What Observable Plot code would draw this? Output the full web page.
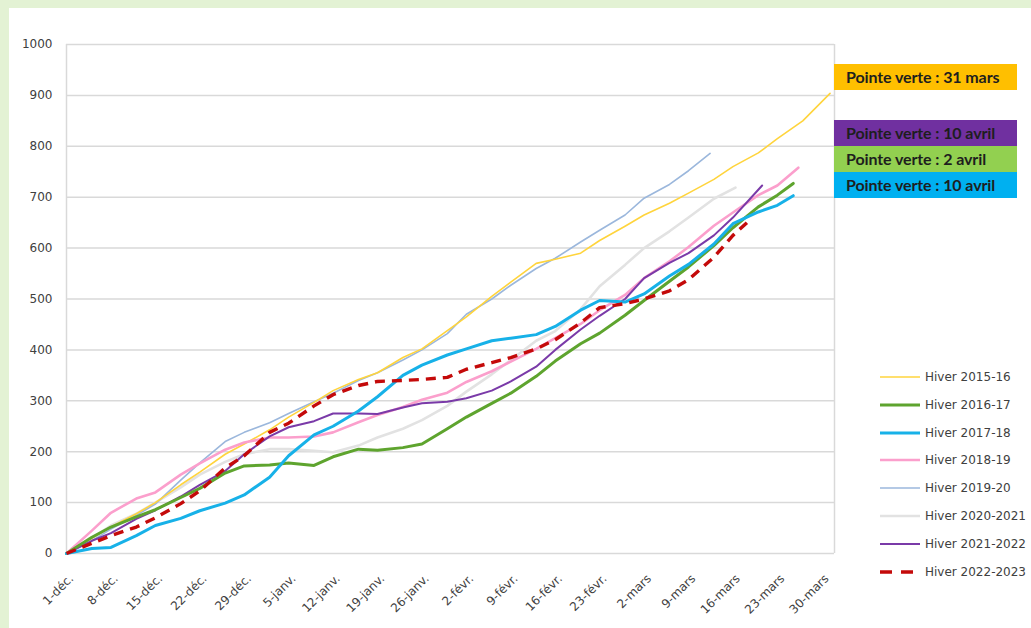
<!DOCTYPE html>
<html>
<head>
<meta charset="utf-8">
<script src="https://cdn.jsdelivr.net/npm/d3@7"></script>
<script src="https://cdn.jsdelivr.net/npm/@observablehq/plot@0.6"></script>
<style>
  html, body { margin: 0; padding: 0; }
  body { width: 1031px; height: 628px; background: #e3f2d4; position: relative; overflow: hidden; font-family: "DejaVu Sans", sans-serif; }
  #panel { position: absolute; left: 9px; top: 8px; width: 1022px; height: 620px; background: #ffffff; }
  #chart { position: absolute; left: 0; top: 0; }
  .box { position: absolute; left: 834px; width: 183px; height: 26px; line-height: 26px; box-sizing: border-box; padding-left: 12px;
         font-family: Lato, "Liberation Sans", sans-serif; font-weight: bold; font-size: 16px; color: #1e1e1e; white-space: nowrap; letter-spacing: -0.1px; }
  .leg { position: absolute; left: 878px; height: 20px; display: flex; align-items: center; font-size: 12px; color: #404040; white-space: nowrap; }
  .leg svg { margin-right: 5px; }
</style>
</head>
<body>
<div id="panel"></div>
<div id="chart"></div>
<div id="boxes"></div>
<div id="legend"></div>
<script>
// Day index from 1 December
const days = [0,4,7,11,14,18,21,25,28,32,35,39,42,46,49,53,56,60,63,67,70,74,77,81,84,88,91,95,98,102,105,109,112,116];
const tickDays = [0,7,14,21,28,35,42,49,56,63,70,77,84,91,98,105,112,119];
const tickLabels = ["1-déc.","8-déc.","15-déc.","22-déc.","29-déc.","5-janv.","12-janv.","19-janv.","26-janv.","2-févr.","9-févr.","16-févr.","23-févr.","2-mars","9-mars","16-mars","23-mars","30-mars"];
const yTicks = [0,100,200,300,400,500,600,700,800,900,1000];

// Each series: values on the days grid; the last value sits at the series end day
const hiver2015 = [0,30,52,78,100,135,160,195,215,243,268,297,320,342,355,385,402,438,465,505,533,570,578,590,615,643,665,688,708,735,760,787,815,850,904];
const hiver2016 = [0,32,52,72,86,110,128,158,172,174,178,173,190,205,203,208,215,245,268,295,315,348,378,412,433,468,497,535,563,605,640,681,704,727];
const hiver2017 = [0,10,12,35,55,69,84,99,115,150,192,233,250,280,308,350,370,390,402,418,423,430,446,478,497,494,510,545,568,608,648,671,684,703];
const hiver2018 = [0,45,80,108,120,155,177,204,218,228,228,230,238,258,272,288,302,316,337,358,377,402,423,451,478,508,541,574,602,644,670,704,723,758];
const hiver2019 = [0,25,48,75,97,144,178,220,238,257,275,298,315,340,355,380,400,432,470,500,527,560,580,612,635,665,698,725,752,786];
const hiver2020 = [0,30,55,78,100,130,155,180,195,205,205,202,199,212,228,245,262,290,318,352,380,418,437,480,525,567,600,633,660,697,719];
const hiver2021 = [0,25,40,68,85,112,135,162,195,230,248,260,275,275,274,287,295,298,305,320,338,367,400,440,467,500,541,571,590,625,660,723];
const hiver2022 = [0,20,35,52,70,98,123,168,192,238,256,290,312,330,338,340,342,346,362,375,385,402,420,453,483,491,500,516,538,582,625,650];

const seriesNames = ["Hiver 2015-16","Hiver 2016-17","Hiver 2017-18","Hiver 2018-19","Hiver 2019-20","Hiver 2020-2021","Hiver 2021-2022","Hiver 2022-2023"];
const seriesValues = [hiver2015, hiver2016, hiver2017, hiver2018, hiver2019, hiver2020, hiver2021, hiver2022];
const endDays = [120.3, 114.5, 114.5, 115.3, 101.4, 105.4, 109.6, 107.2];
const seriesColors = ["#ffd43c","#5ea42e","#17b1e8","#fb9fcc","#9bb7dc","#e2e2e2","#7a3aa8","#c40a0a"];
const seriesWidths = [1.6, 3, 3, 2.6, 1.6, 2.6, 2, 3.4];
const seriesDash = [null, null, null, null, null, null, null, "10,7"];

const pointeLabels = ["Pointe verte : 31 mars","Pointe verte : 10 avril","Pointe verte : 2 avril","Pointe verte : 10 avril"];
const pointeColors = ["#ffbf00","#7030a0","#92d050","#00b0f0"];
const pointeTops = [64, 120, 146, 172];

const rows = seriesValues.map((vals, s) => vals.map((v, i) => ({
  s, day: i === vals.length - 1 ? endDays[s] : days[i], v
})));

const drawOrder = [5, 4, 0, 3, 6, 1, 2, 7];

const chart = Plot.plot({
  width: 1031,
  height: 628,
  marginLeft: 66,
  marginRight: 197,
  marginTop: 44,
  marginBottom: 75,
  style: { background: "none", fontFamily: "DejaVu Sans, sans-serif", fontSize: "12px", color: "#404040" },
  x: { domain: [0, 121] },
  y: { domain: [0, 1000] },
  marks: [
    Plot.gridY(yTicks, { stroke: "#d9d9d9", strokeOpacity: 1, strokeWidth: 1.5 }),
    Plot.ruleX([0, 121], { stroke: "#d9d9d9", strokeWidth: 1.5 }),
    Plot.axisY(yTicks, { tickSize: 0, tickPadding: 14, fill: "#404040", label: null, fontSize: 12, tickFormat: (d) => String(d) }),
    Plot.axisX(tickDays, {
      tickSize: 0, tickPadding: 23, dx: 5, tickRotate: -45, label: null, fill: "#404040", fontSize: 12,
      tickFormat: (d) => tickLabels[tickDays.indexOf(d)]
    }),
    ...drawOrder.map((s) => Plot.line(rows[s], {
      x: "day", y: "v", stroke: seriesColors[s], strokeWidth: seriesWidths[s],
      strokeDasharray: seriesDash[s], strokeLinejoin: "round", strokeLinecap: seriesDash[s] ? "butt" : "round"
    }))
  ]
});
document.getElementById("chart").appendChild(chart);

// Pointe verte boxes
const boxes = document.getElementById("boxes");
pointeLabels.forEach((t, i) => {
  const d = document.createElement("div");
  d.className = "box";
  d.style.top = pointeTops[i] + "px";
  d.style.background = pointeColors[i];
  d.textContent = t;
  boxes.appendChild(d);
});

// Legend
const legend = document.getElementById("legend");
seriesNames.forEach((name, s) => {
  const d = document.createElement("div");
  d.className = "leg";
  d.style.top = (367 + s * 27.8) + "px";
  const dash = seriesDash[s] ? ` stroke-dasharray="12,9"` : "";
  d.innerHTML = `<svg width="42" height="8"><line x1="2" y1="4" x2="42" y2="4" stroke="${seriesColors[s]}" stroke-width="${seriesWidths[s]}"${dash}/></svg><span>${name}</span>`;
  legend.appendChild(d);
});
</script>
</body>
</html>
